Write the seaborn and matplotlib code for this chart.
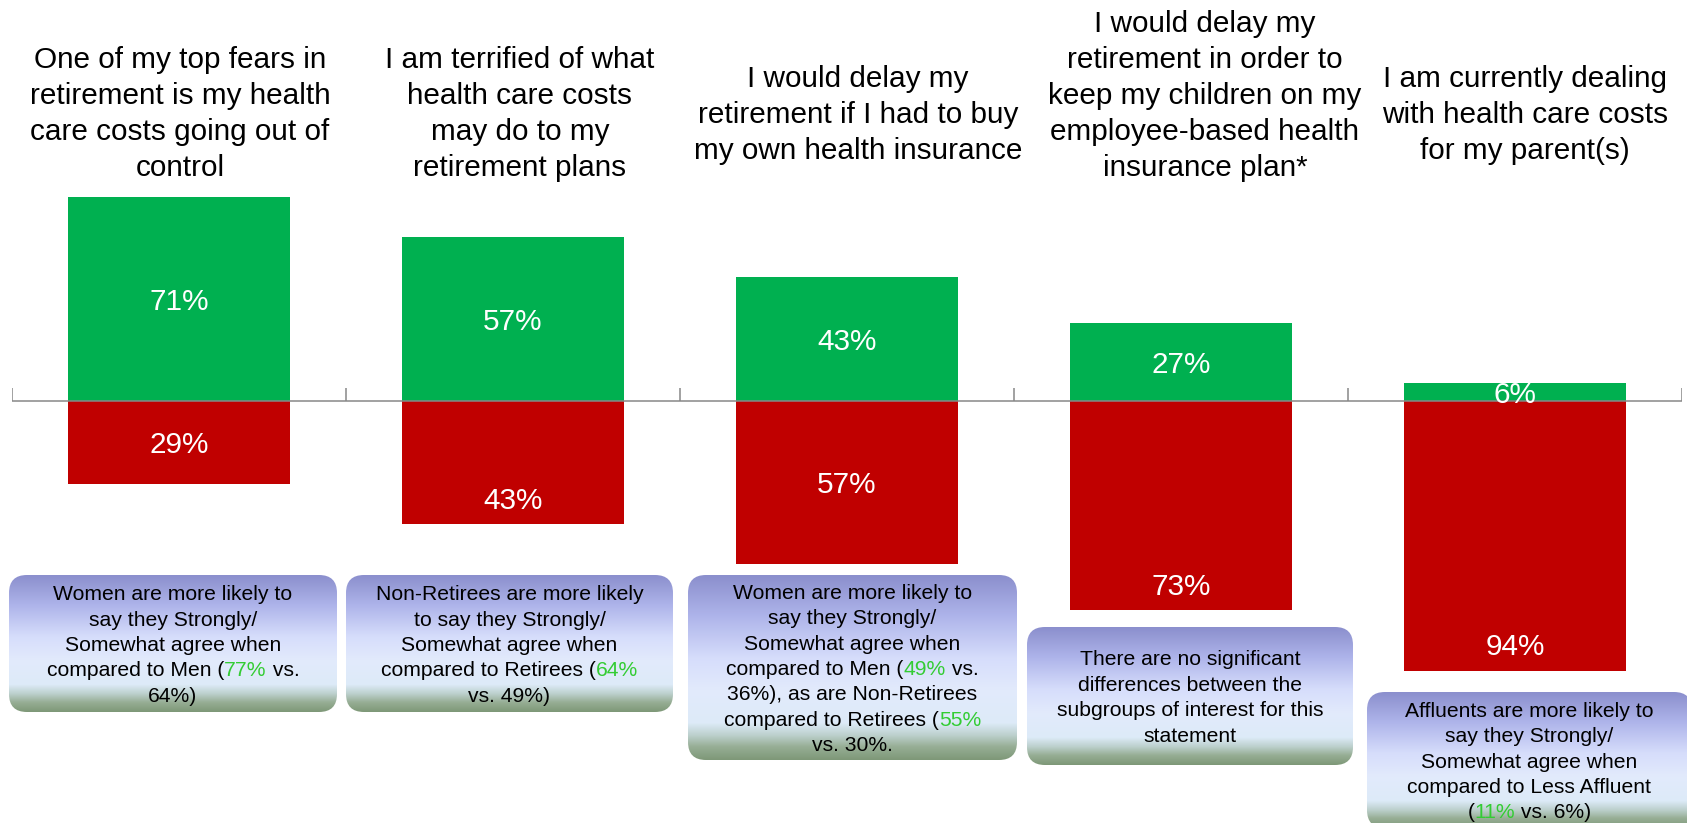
import re
import numpy as np
import pandas as pd
import matplotlib
matplotlib.use("Agg")
import matplotlib.pyplot as plt
import seaborn as sns
from matplotlib.patches import FancyBboxPatch
from matplotlib.colors import LinearSegmentedColormap

# ---- data -------------------------------------------------------------
statements = [
    "One of my top fears in\nretirement is my health\ncare costs going out of\ncontrol",
    "I am terrified of what\nhealth care costs\nmay do to my\nretirement plans",
    "I would delay my\nretirement if I had to buy\nmy own health insurance",
    "I would delay my\nretirement in order to\nkeep my children on my\nemployee-based health\ninsurance plan*",
    "I am currently dealing\nwith health care costs\nfor my parent(s)",
]
agree = [71, 57, 43, 27, 6]
disagree = [29, 43, 57, 73, 94]

# {..} marks the highlighted figure inside a note line
notes = [
    ["Women are more likely to", "say they Strongly/", "Somewhat agree when",
     "compared to Men ({77%} vs.", "64%)"],
    ["Non-Retirees are more likely", "to say they Strongly/", "Somewhat agree when",
     "compared to Retirees ({64%}", "vs. 49%)"],
    ["Women are more likely to", "say they Strongly/", "Somewhat agree when",
     "compared to Men ({49%} vs.", "36%), as are Non-Retirees",
     "compared to Retirees ({55%}", "vs. 30%."],
    ["There are no significant", "differences between the",
     "subgroups of interest for this", "statement"],
    ["Affluents are more likely to", "say they Strongly/", "Somewhat agree when",
     "compared to Less Affluent", "({11%} vs. 6%)"],
]

# ---- style / layout ---------------------------------------------------
W, H = 1687, 823
GREEN, RED = "#00B050", "#C00000"
HILITE = "#33CC33"
AXIS_GREY = "#878787"
ZERO_Y = 400.5          # pixel row of the zero line
PX_PER_PCT = 2.873      # vertical pixels per percentage point
AX_LEFT, AX_RIGHT = 12, 1682

# where the label of each red bar sits: middle of the bar or near its end
RED_LABEL_AT = ["mid", "end", "mid", "end", "end"]
END_INSET_PX = 26.5

TITLE_X = [180, 520, 858, 1205, 1525]
TITLE_MID = [122, 122, 123, 104, 123]
TITLE_STEP = 36
NOTE_BOXES = [(9, 575, 337, 712), (346, 575, 673, 712), (688, 575, 1017, 760),
              (1027, 627, 1353, 765), (1367, 692, 1692, 828)]
NOTE_STEP = 25.4
NOTE_SIZE = 15.2
BIG_SIZE = 21.4

sns.set_theme(style="white")
FONT = ["Liberation Sans", "DejaVu Sans"]
plt.rcParams["font.family"] = FONT

fig = plt.figure(figsize=(W / 100, H / 100), dpi=100)
fig.patch.set_facecolor("white")

# ---- diverging bars ---------------------------------------------------
ax = fig.add_axes([AX_LEFT / W, 0, (AX_RIGHT - AX_LEFT) / W, 1])
df = pd.DataFrame({"statement": statements,
                   "agree": agree,
                   "disagree": [-d for d in disagree]})
sns.barplot(data=df, x="statement", y="agree", color=GREEN, saturation=1,
            width=0.667, errorbar=None, linewidth=0, ax=ax)
sns.barplot(data=df, x="statement", y="disagree", color=RED, saturation=1,
            width=0.667, errorbar=None, linewidth=0, ax=ax)
n = len(statements)
ax.set_xlim(-0.5, n - 0.5)
ax.set_ylim(-(H - ZERO_Y) / PX_PER_PCT, ZERO_Y / PX_PER_PCT)
ax.axis("off")

ax.axhline(0, color=AXIS_GREY, lw=1.1, zorder=5)
ax.vlines(np.arange(-0.5, n), 0, 13 / PX_PER_PCT, color=AXIS_GREY, lw=1.1, zorder=5)

for i, (a, d, where) in enumerate(zip(agree, disagree, RED_LABEL_AT)):
    ax.text(i, a / 2, f"{a}%", ha="center", va="center_baseline",
            color="white", fontsize=BIG_SIZE, zorder=6)
    y_red = -d / 2 if where == "mid" else -d + END_INSET_PX / PX_PER_PCT
    ax.text(i, y_red, f"{d}%", ha="center", va="center_baseline",
            color="white", fontsize=BIG_SIZE, zorder=6)

# ---- overlay in pixel coordinates for titles and notes ----------------
ov = fig.add_axes([0, 0, 1, 1])
ov.set_xlim(0, W)
ov.set_ylim(H, 0)
ov.axis("off")
ov.set_autoscale_on(False)

for s, x, mid in zip(statements, TITLE_X, TITLE_MID):
    lines = s.split("\n")
    k = len(lines)
    for i, line in enumerate(lines):
        ov.text(x, mid + (i - (k - 1) / 2) * TITLE_STEP, line, ha="center",
                va="baseline", fontsize=BIG_SIZE, color="black")

box_cmap = LinearSegmentedColormap.from_list("note", [
    (0.00, "#8B8FCD"),
    (0.22, "#AEB4EA"),
    (0.45, "#D6DDFB"),
    (0.62, "#E2EAFC"),
    (0.80, "#DDEBF8"),
    (0.87, "#BBCFCB"),
    (0.93, "#97AE95"),
    (1.00, "#7E9878"),
])
grad = np.linspace(0, 1, 256).reshape(-1, 1)

renderer = fig.canvas.get_renderer()


def advance(s):
    t = ov.text(0, 0, s + "X", fontsize=NOTE_SIZE)
    w1 = t.get_window_extent(renderer).width
    t.set_text("X")
    w0 = t.get_window_extent(renderer).width
    t.remove()
    return w1 - w0


for lines, (x0, y0, x1, y1) in zip(notes, NOTE_BOXES):
    patch = FancyBboxPatch((x0, y0), x1 - x0, y1 - y0,
                           boxstyle="round,pad=0,rounding_size=18",
                           facecolor="none", edgecolor="none")
    ov.add_patch(patch)
    im = ov.imshow(grad, cmap=box_cmap, aspect="auto", origin="upper",
                   extent=(x0, x1, y1, y0), interpolation="bilinear")
    im.set_clip_path(patch)

    cx = (x0 + x1) / 2
    mid = (y0 + y1) / 2 + 7.5
    k = len(lines)
    for i, line in enumerate(lines):
        y = mid + (i - (k - 1) / 2) * NOTE_STEP
        parts = [p for p in re.split(r"(\{[^}]*\})", line) if p]
        plain = "".join(p.strip("{}") for p in parts)
        total = advance(plain)
        start = cx - total / 2
        prefix = ""
        for p in parts:
            green = p.startswith("{")
            seg = p.strip("{}")
            ov.text(start + advance(prefix), y, seg, ha="left", va="baseline",
                    fontsize=NOTE_SIZE, color=HILITE if green else "black")
            prefix += seg

fig.savefig("out.png", dpi=100, facecolor="white")
